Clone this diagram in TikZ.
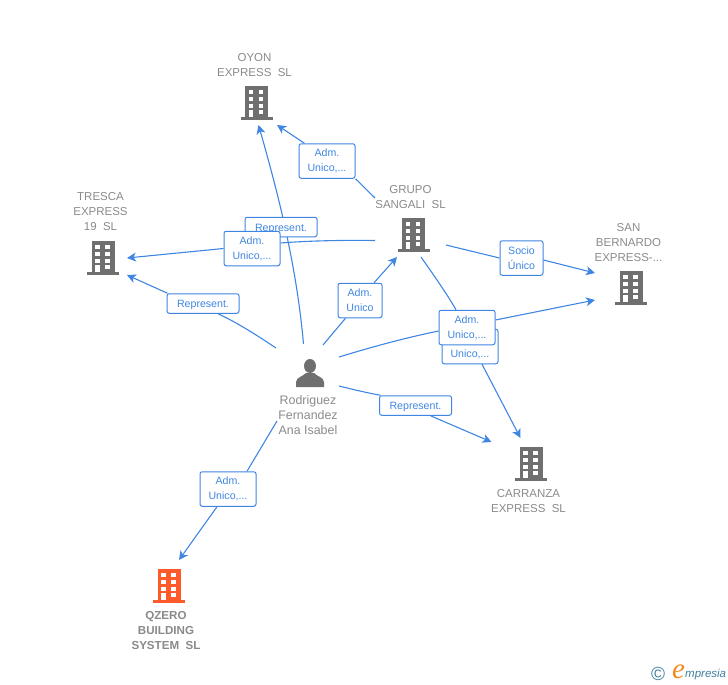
\documentclass[tikz,border=0pt]{standalone}
\usepackage{fontspec}
\setmainfont{Liberation Sans}
\newfontfamily\logoserif{Liberation Serif}
\usetikzlibrary{arrows.meta}
\pgfdeclarelayer{bg}
\pgfsetlayers{bg,main}
\definecolor{linkblue}{HTML}{3F86E3}
\definecolor{namegray}{HTML}{8A8A8A}
\definecolor{icongray}{HTML}{6F6F6F}
\definecolor{iconred}{HTML}{FF5A2B}
\definecolor{logoteal}{HTML}{3F7F9C}
\definecolor{logoorange}{HTML}{F08A1D}
\newcommand{\fourwin}[3]{% x, y top, colour
  \fill[#3] (#1-11.5,#2) rectangle (#1+11.5,#2+31);
  \fill[#3] (#1-16,#2+31) rectangle (#1+16,#2+34);
  \foreach \wx in {-8,2}{\foreach \wy in {4,11,17.5}{
    \fill[white] (#1+\wx-.0,#2+\wy) rectangle (#1+\wx+4.7,#2+\wy+4.4);}}
  \fill[white] (#1-8,#2+23.5) rectangle (#1-3.3,#2+31);
  \fill[white] (#1+2,#2+23.5) rectangle (#1+6.7,#2+28);
}
\tikzset{
  every node/.style={font=\fontsize{11.5}{15}\selectfont},
  namelabel/.style={text=namegray,align=center,inner sep=0pt},
  personlabel/.style={namelabel,font=\fontsize{12.4}{15}\selectfont},
  redlabel/.style={namelabel,font=\fontsize{11.6}{15}\selectfont\bfseries},
  tag/.style={draw=linkblue,line width=1pt,fill=white,rounded corners=2.2pt,text=linkblue,
    align=center,inner sep=0pt,font=\fontsize{10.6}{15}\selectfont,
    execute at begin node={\rule{0pt}{10.5pt}}},
  tagwide/.style={tag,minimum width=72pt,minimum height=19.5pt},
  tagtwo/.style={tag,minimum width=56pt,minimum height=34.5pt},
  link/.style={draw=linkblue,line width=1.1pt,-{Stealth[length=9pt,width=9pt,inset=2.5pt]}},
  linkplain/.style={draw=linkblue,line width=1.1pt},
  spot/.style={inner sep=0pt,minimum size=1pt}
}
\begin{document}
\begin{tikzpicture}[x=1pt,y=-1pt]
\useasboundingbox (0,0) rectangle (728,685);
% icons
\node[spot] (oyon) at (256.5,103) {};
\fourwin{256.5}{86}{icongray}
\node[spot] (grupo) at (413.5,235) {};
\fourwin{413.5}{218}{icongray}
\node[spot] (tresca) at (103,258) {};
\fourwin{103}{241}{icongray}
\node[spot] (sanb) at (631,288) {};
\fourwin{631}{271}{icongray}
\node[spot] (carranza) at (531,464) {};
\fourwin{531}{447}{icongray}
\node[spot] (qzero) at (169,586) {};
\fourwin{169}{569}{iconred}
% person icon
\node[spot] (person) at (310,373) {};
\fill[icongray] (310,366) ellipse (6 and 7);
\fill[icongray] (296,387) -- (296,382) .. controls (296.5,377) and (303,376.5) .. (306,373)
  -- (314,373) .. controls (317,376.5) and (323.5,377) .. (324,382) -- (324,387) -- cycle;
% names
\node[namelabel] (noyon) at (254.5,65.5) {OYON\\EXPRESS\ \ SL};
\node[namelabel] (ngrupo) at (410.5,197.5) {GRUPO\\SANGALI\ \ SL};
\node[namelabel] (ntresca) at (100.5,212) {TRESCA\\EXPRESS\\19\ \ SL};
\node[namelabel] (nsanb) at (628.5,243) {SAN\\BERNARDO\\EXPRESS-...};
\node[namelabel] (ncarranza) at (528.5,501.5) {CARRANZA\\EXPRESS\ \ SL};
\node[personlabel] (nperson) at (308,415) {Rodriguez\\Fernandez\\Ana Isabel};
\node[redlabel] (nqzero) at (166,630) {QZERO\\BUILDING\\SYSTEM\ \ SL};
% tags
\node[tagwide] (t1) at (281,227) {Represent.};
\node[tagtwo] (t2) at (327,161) {Adm.\\Unico,...};
\node[tagtwo] (t3) at (252,248.5) {Adm.\\Unico,...};
\node[tagwide] (t4) at (203,303.5) {Represent.};
\node[tag,minimum width=44pt,minimum height=34.5pt] (t5) at (360,300.5) {Adm.\\Unico};
\node[tag,minimum width=43pt,minimum height=34.5pt] (t6) at (521.5,258) {Socio\\Único};
\node[tagtwo] (t8) at (470,346.5) {\phantom{Adm.}\\Unico,...};
\node[tagtwo] (t7) at (467,327.5) {Adm.\\Unico,...};
\node[tagwide] (t9) at (415.5,405.5) {Represent.};
\node[tagtwo] (t10) at (228,489) {Adm.\\Unico,...};
% free ends of the connectors
\coordinate (pa) at (303.5,344);
\coordinate (pb) at (276,348);
\coordinate (pc) at (323,345);
\coordinate (pd) at (339,357);
\coordinate (pe) at (339,386);
\coordinate (pf) at (277,421);
\coordinate (ga) at (375,198);
\coordinate (gb) at (375,240.5);
\coordinate (gc) at (446,245);
\coordinate (gd) at (421,257);
\coordinate (oa) at (258.5,125);
\coordinate (ob) at (277,125);
\coordinate (ta) at (127,258);
\coordinate (tb) at (127,275);
\coordinate (ia) at (397,257);
\coordinate (sa) at (595,273);
\coordinate (sb) at (595,300);
\coordinate (ca) at (520.5,438);
\coordinate (cb) at (491.5,442);
\coordinate (qa) at (179,560);
% connectors
\begin{pgfonlayer}{bg}
\draw[link] (pa) .. controls (297,270) and (280,200) .. (oa);
\draw[linkplain] (ga) -- (t2.south east);
\draw[link] ([xshift=6pt]t2.north west) -- (ob);
\draw[linkplain] (gb) .. controls (340,240) and (305,241) .. ([yshift=5.5pt]t3.east);
\draw[link] (t3.west) -- (ta);
\draw[linkplain] (pb) .. controls (258,336) and (238,323) .. ([xshift=15pt]t4.south);
\draw[link] ([xshift=1pt]t4.north west) -- (tb);
\draw[linkplain] (pc) -- ([xshift=8pt]t5.south west);
\draw[link] ([xshift=14pt]t5.north) -- (ia);
\draw[linkplain] (gc) -- (t6.west);
\draw[link] ([yshift=-2pt]t6.east) -- (sa);
\draw[linkplain] (pd) .. controls (375,346) and (405,338) .. ([yshift=-3.5pt]t7.west);
\draw[link] ([yshift=7.5pt]t7.east) -- (sb);
\draw[linkplain] (gd) .. controls (435,277) and (447,294) .. ([xshift=-11pt]t7.north);
\draw[link] ([xshift=12pt]t8.south) -- (ca);
\draw[linkplain] (pe) .. controls (355,390) and (368,393) .. ([xshift=-35pt]t9.north);
\draw[link] ([xshift=15pt]t9.south) -- (cb);
\draw[linkplain] (pf) -- ([xshift=19pt]t10.north);
\draw[link] ([xshift=-11pt]t10.south) -- (qa);
\end{pgfonlayer}
% logo
\node[inner sep=0pt,text=logoteal,font=\fontsize{19}{19}\selectfont] (copy) at (658,674) {©};
\node[inner sep=0pt,text=logoorange,font=\logoserif\itshape\fontsize{29}{29}\selectfont] (loge) at (678.5,671.5) {e};
\node[inner sep=0pt,text=logoteal,anchor=west,font=\itshape\fontsize{11.5}{12}\selectfont] (logt) at (685,674.5) {mpresia};
\end{tikzpicture}
\end{document}
